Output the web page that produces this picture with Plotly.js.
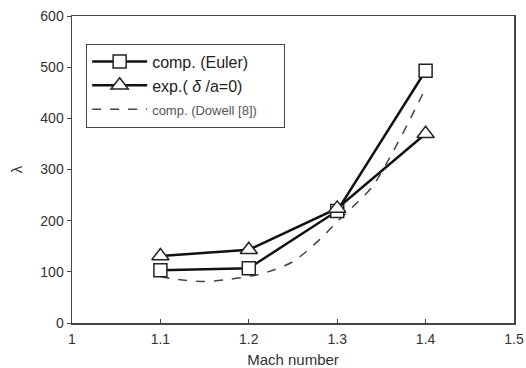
<!DOCTYPE html>
<html>
<head>
<meta charset="utf-8">
<script src="https://cdn.plot.ly/plotly-3.0.1.min.js"></script>
<style>html,body{margin:0;padding:0;background:#fff;}#chart{width:526px;height:368px;}</style>
</head>
<body>
<div id="chart"></div>
<script>
const machPoints = [1.1, 1.2, 1.3, 1.4];
const eulerValues = [103, 107, 219, 493];
const expValues = [131, 143, 224, 370];
const dowellMach = [1.1, 1.12, 1.15, 1.18, 1.2, 1.22, 1.25, 1.28, 1.3, 1.32, 1.34, 1.36, 1.38, 1.4];
const dowellValues = [91, 85, 81, 86, 91, 99, 120, 163, 198, 231, 267, 325, 390, 459];
const xTicks = [1, 1.1, 1.2, 1.3, 1.4, 1.5];
const xTickLabels = ['1', '1.1', '1.2', '1.3', '1.4', '1.5'];
const yTicks = [0, 100, 200, 300, 400, 500, 600];

const traces = [
  {
    x: dowellMach, y: dowellValues, mode: 'lines', type: 'scatter',
    name: '<span style="font-size:13px;color:#555">comp. (Dowell [8])&nbsp;&nbsp;&nbsp;&nbsp;&nbsp;&nbsp;</span>',
    line: {color: '#444', width: 1.5, dash: 'dash', shape: 'spline', smoothing: 0.8},
    legendrank: 3
  },
  {
    x: machPoints, y: eulerValues, mode: 'lines+markers', type: 'scatter',
    name: 'comp. (Euler)',
    line: {color: '#111', width: 2.5},
    marker: {symbol: 'square', size: 13, color: '#fff', line: {color: '#222', width: 1.5}},
    legendrank: 1
  },
  {
    x: machPoints, y: expValues, mode: 'lines+markers', type: 'scatter',
    name: 'exp.( <i>δ</i> /a=0)',
    line: {color: '#111', width: 2.5},
    marker: {symbol: 'triangle-up', size: 15, color: '#fff', line: {color: '#222', width: 1.5}},
    legendrank: 2
  }
];

const layout = {
  width: 526, height: 368,
  margin: {l: 72, r: 12, t: 16, b: 45},
  paper_bgcolor: '#fff', plot_bgcolor: '#fff',
  font: {family: 'Liberation Sans, Arial, sans-serif', color: '#333', size: 13},
  showlegend: true,
  legend: {
    x: 0.032, y: 0.91, xanchor: 'left', yanchor: 'top',
    bordercolor: '#444', borderwidth: 1, bgcolor: '#fff',
    font: {size: 16, color: '#222'},
    itemwidth: 55, tracegroupgap: 0
  },
  xaxis: {
    range: [1, 1.5], tickvals: xTicks, ticktext: xTickLabels,
    showgrid: false, zeroline: false,
    showline: true, linecolor: '#444', linewidth: 1.5, mirror: true,
    ticks: 'inside', ticklen: 4, tickcolor: '#444',
    ticklabelstandoff: 3,
    tickfont: {size: 14, color: '#333'},
    title: {text: 'Mach number', font: {size: 15, color: '#333'}, standoff: 8}
  },
  yaxis: {
    range: [0, 600], tickvals: yTicks,
    showgrid: false, zeroline: false,
    showline: true, linecolor: '#444', linewidth: 1.5, mirror: true,
    ticks: 'outside', ticklen: 4, tickcolor: '#444',
    tickfont: {size: 14, color: '#333'},
    title: {text: 'λ', font: {size: 15, color: '#333'}, standoff: 14}
  }
};

Plotly.newPlot('chart', traces, layout, {displayModeBar: false, staticPlot: true});
</script>
</body>
</html>
